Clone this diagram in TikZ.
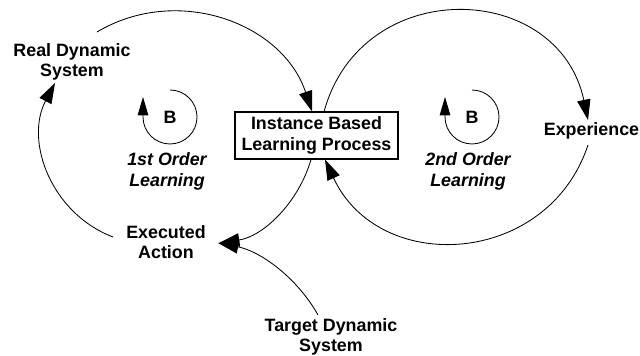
\documentclass[tikz,border=0pt]{standalone}
\usepackage{fontspec}
\setmainfont{Liberation Sans}
\usetikzlibrary{arrows.meta}
\begin{document}
\begin{tikzpicture}[
  lbl/.style={font=\fontsize{12.7}{14.5}\selectfont\bfseries, align=center, inner sep=0pt},
  ilbl/.style={font=\fontsize{12.7}{14.5}\selectfont\bfseries\itshape, align=center, inner sep=0pt},
  boxnode/.style={draw, line width=0.8pt, minimum width=4.075cm, minimum height=1.175cm, align=center, inner sep=0pt, font=\fontsize{12.7}{14.5}\selectfont\bfseries},
  conn/.style={line width=0.6pt, -{Triangle[length=14.5pt,width=9.5pt]}},
  loopc/.style={line width=0.6pt, -{Triangle[length=13pt,width=7.5pt]}}
]
\useasboundingbox (0,0) rectangle (16,8.9);

\node[lbl] (rds) at (1.8,7.35) {Real Dynamic\\System};
\node[boxnode] (box) at (7.9125,5.5125) {Instance Based\\Learning Process};
\node[lbl] (exp) at (14.7875,5.625) {Experience};
\node[lbl] (ea) at (4.15,2.85) {Executed\\Action};
\node[lbl] (tds) at (8.275,0.475) {Target Dynamic\\System};
\node[ilbl] (l1) at (4.175,4.6125) {1st Order\\Learning};
\node[ilbl] (l2) at (11.7,4.6125) {2nd Order\\Learning};
\node[lbl] (b1) at (4.25,5.975) {B};
\node[lbl] (b2) at (11.8,5.975) {B};

% Real Dynamic System -> Instance Based Learning Process
\draw[conn] ([shift={(0.625,0.75)}]rds.center) to[out=30.8, in=108.4, looseness=1.045] ([xshift=-0.1125cm]box.north);
% Instance Based Learning Process -> Experience
\draw[conn] ([xshift=0.19cm]box.north) to[out=74.6, in=101.9, looseness=1.38] ([shift={(-0.0875,0.275)}]exp.center);
% Experience -> Instance Based Learning Process
\draw[conn] ([shift={(-0.0875,-0.35)}]exp.center) to[out=-108.4, in=-65.1, looseness=1.246] ([xshift=0.2125cm]box.south);
% Instance Based Learning Process -> Executed Action
\draw[conn] ([xshift=-0.1375cm]box.south) to[out=-106.2, in=8.5, looseness=0.924] ([shift={(1.325,-0.025)}]ea.center);
% Target Dynamic System -> Executed Action
\draw[conn] ([shift={(-0.325,0.55)}]tds.center) to[out=119.3, in=-10.9, looseness=0.893] ([shift={(1.3,-0.025)}]ea.center);
% Executed Action -> Real Dynamic System
\draw[conn] ([shift={(-1.325,0.125)}]ea.center) to[out=159.2, in=242.2, looseness=1.024] ([shift={(-0.425,-0.525)}]rds.center);

% balancing loop markers
\draw[loopc] ([yshift=0.675cm]b1.center) arc[start angle=90, end angle=-180, radius=0.675cm] -- ++(0,0.5);
\draw[loopc] ([yshift=0.675cm]b2.center) arc[start angle=90, end angle=-180, radius=0.675cm] -- ++(0,0.5);
\end{tikzpicture}
\end{document}
